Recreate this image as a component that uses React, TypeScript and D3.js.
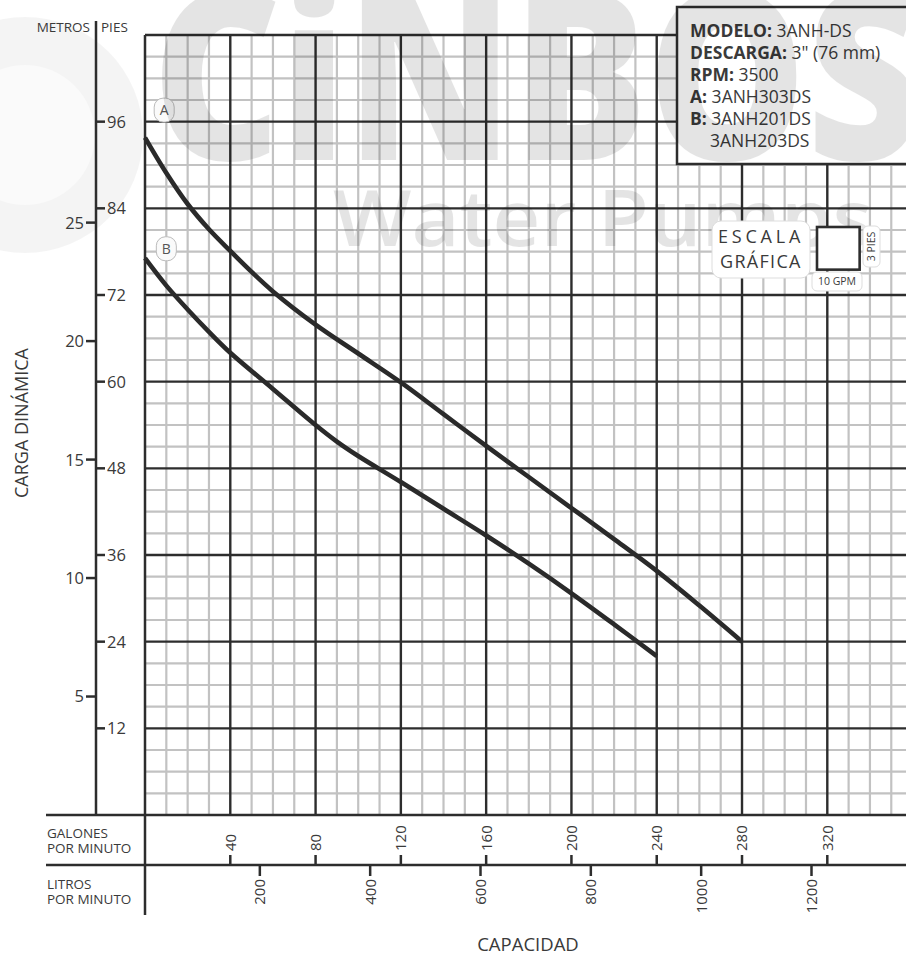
import * as d3 from "d3";

const W = 906;
const H = 956;
const FONT = "'Open Sans', 'Noto Sans', sans-serif";

// curva A (3ANH303DS): galones por minuto -> pies
const gpmA = [0, 10, 20, 30, 40, 50, 60, 80, 100, 120, 140, 160, 180, 200, 220, 240, 260, 280];
const piesA = [93.8, 88.9, 84.6, 81.1, 78.1, 75.2, 72.5, 67.9, 63.9, 59.9, 55.5, 51.1, 46.8, 42.5, 38.2, 33.8, 29, 24];

// curva B (3ANH201DS / 3ANH203DS)
const gpmB = [0, 10, 20, 30, 40, 60, 80, 90, 100, 120, 140, 160, 180, 200, 220, 240];
const piesB = [77.1, 73.3, 70, 66.9, 64, 59, 54, 51.7, 49.7, 46.1, 42.4, 38.7, 34.8, 30.7, 26.4, 22];

const gpmTicks = [40, 80, 120, 160, 200, 240, 280, 320, 360];
const lpmTicks = [200, 400, 600, 800, 1000, 1200];
const piesTicks = [12, 24, 36, 48, 60, 72, 84, 96];
const metrosTicks = [5, 10, 15, 20, 25];
const FT_PER_M = 3.28084;

const legendLines = [
  ["MODELO:", " 3ANH-DS"],
  ["DESCARGA:", " 3\" (76 mm)"],
  ["RPM:", " 3500"],
  ["A:", " 3ANH303DS"],
  ["B:", " 3ANH201DS"],
  ["", "3ANH203DS"],
];

const x = d3.scaleLinear().domain([0, 320]).range([145, 827.3]);
const y = d3.scaleLinear().domain([0, 108]).range([815, 35]);
const xL = d3.scaleLinear().domain([0, 1200]).range([149.5, 811.5]);

const line = d3
  .line<[number, number]>()
  .x((d) => x(d[0]))
  .y((d) => y(d[1]))
  .curve(d3.curveCatmullRom.alpha(0.5));

const pathA = line(gpmA.map((g, i) => [g, piesA[i]] as [number, number]));
const pathB = line(gpmB.map((g, i) => [g, piesB[i]] as [number, number]));

const DARK = "#2d2d2d";
const MINOR = "#c2c2c2";
const TEXT = "#3a3a3a";

export default function App() {
  const minorV = d3.range(0, 370, 10).filter((v) => v % 40 !== 0 && x(v) < W + 2);
  const majorV = d3.range(40, 370, 40).filter((v) => x(v) < W + 2);
  const minorH = d3.range(3, 108, 3).filter((v) => v % 12 !== 0);
  const majorH = d3.range(12, 109, 12);
  const cell = x(10) - x(0);

  return (
    <div style={{ position: "absolute", left: 0, top: 0 }}>
      <svg width={W} height={H} style={{ display: "block", background: "#fff" }} fontFamily={FONT}>
        {/* logo faint at left */}
        <circle cx={25} cy={135} r={118} fill="#000" opacity={0.045} />
        <circle cx={25} cy={135} r={70} fill="#fff" opacity={0.5} />

        {/* grid */}
        <g strokeWidth={2.2} stroke={MINOR}>
          {minorV.map((v) => (
            <line key={"mv" + v} x1={x(v)} x2={x(v)} y1={y(108)} y2={y(0)} />
          ))}
          {minorH.map((v) => (
            <line key={"mh" + v} x1={x(0)} x2={W} y1={y(v)} y2={y(v)} />
          ))}
        </g>
        <g strokeWidth={2.4} stroke={DARK}>
          {majorV.map((v) => (
            <line key={"Mv" + v} x1={x(v)} x2={x(v)} y1={y(108)} y2={y(0)} />
          ))}
          {majorH.map((v) => (
            <line key={"Mh" + v} x1={x(0)} x2={W} y1={y(v)} y2={y(v)} />
          ))}
        </g>

        {/* frame / axes */}
        <g stroke={DARK} strokeWidth={2.5}>
          <line x1={x(0)} x2={x(0)} y1={y(108)} y2={915} />
          <line x1={46} x2={W} y1={y(0)} y2={y(0)} />
          <line x1={46} x2={W} y1={865} y2={865} />
          <line x1={96} x2={96} y1={21} y2={y(0)} />
          {piesTicks.map((t) => (
            <line key={"pt" + t} x1={96} x2={105} y1={y(t)} y2={y(t)} />
          ))}
          {metrosTicks.map((t) => (
            <line key={"mt" + t} x1={86} x2={96} y1={y(t * FT_PER_M)} y2={y(t * FT_PER_M)} />
          ))}
          {gpmTicks.map((t) => (
            <line key={"gt" + t} x1={x(t)} x2={x(t)} y1={855} y2={865} />
          ))}
          {lpmTicks.map((t) => (
            <line key={"lt" + t} x1={xL(t)} x2={xL(t)} y1={865} y2={876} />
          ))}
        </g>

        {/* curves */}
        <path d={pathA ?? ""} fill="none" stroke="#2a2a2a" strokeWidth={4.6} />
        <path d={pathB ?? ""} fill="none" stroke="#2a2a2a" strokeWidth={4.6} />

        {/* curve labels */}
        {[
          { k: "A", g: 9, h: 97.6 },
          { k: "B", g: 10, h: 78.4 },
        ].map((l) => (
          <g key={l.k} transform={`translate(${x(l.g)},${y(l.h)})`}>
            <rect x={-10} y={-12} width={20} height={24} rx={9} fill="#fafafa" stroke="#bbb" strokeWidth={1} />
            <text textAnchor="middle" dy="0.36em" fontSize={14} fill="#555">
              {l.k}
            </text>
          </g>
        ))}

        {/* axis texts */}
        <g fill={TEXT}>
          <text x={90} y={32} fontSize={13.5} textAnchor="end">METROS</text>
          <text x={101} y={32} fontSize={13.5}>PIES</text>
          {piesTicks.map((t) => (
            <text key={"pl" + t} x={107} y={y(t)} dy="0.36em" fontSize={16.5}>
              {t}
            </text>
          ))}
          {metrosTicks.map((t) => (
            <text key={"ml" + t} x={84} y={y(t * FT_PER_M)} dy="0.36em" fontSize={16.5} textAnchor="end">
              {t}
            </text>
          ))}
          <text transform="translate(22,423) rotate(-90)" textAnchor="middle" dy="0.35em" fontSize={18}>
            CARGA DINÁMICA
          </text>
          <text x={47} y={838} fontSize={13.5}>GALONES</text>
          <text x={47} y={853} fontSize={13.5}>POR MINUTO</text>
          <text x={47} y={889} fontSize={13.5}>LITROS</text>
          <text x={47} y={904} fontSize={13.5}>POR MINUTO</text>
          {gpmTicks.map((t) => (
            <text key={"gl" + t} transform={`translate(${x(t)},851) rotate(-90)`} dy="0.36em" fontSize={15}>
              {t}
            </text>
          ))}
          {lpmTicks.map((t) => (
            <text
              key={"ll" + t}
              transform={`translate(${xL(t)},879) rotate(-90)`}
              dy="0.36em"
              fontSize={15}
              textAnchor="end"
            >
              {t}
            </text>
          ))}
          <text x={528} y={951} fontSize={18.5} textAnchor="middle">CAPACIDAD</text>
        </g>

        {/* legend box */}
        <rect x={677} y={7} width={240} height={157} fill="#fff" stroke={DARK} strokeWidth={2.5} />
        <g fontSize={17.5} fill={TEXT}>
          {legendLines.map((l, i) => (
            <text key={"lg" + i} x={l[0] ? 690 : 710} y={37 + i * 21.9}>
              {l[0] && <tspan fontWeight={700}>{l[0]}</tspan>}
              <tspan>{l[1]}</tspan>
            </text>
          ))}
        </g>

        {/* watermark */}
        <g fill="#000" opacity={0.1} pointerEvents="none">
          <text x={152} y={160} fontSize={235} fontWeight={800} textLength={770} lengthAdjust="spacingAndGlyphs">
            CiNBOS
          </text>
          <text x={333} y={246} fontSize={78} fontWeight={600} textLength={540} lengthAdjust="spacingAndGlyphs">
            Water Pumps
          </text>
        </g>

        {/* escala gráfica */}
        <rect x={712} y={221} width={98} height={57} rx={9} fill="#fff" stroke="#ddd" strokeWidth={1} />
        <text x={718} y={243} fontSize={18} letterSpacing={3.8} fill={TEXT}>ESCALA</text>
        <text x={720} y={268} fontSize={18} letterSpacing={1.3} fill={TEXT}>GRÁFICA</text>
        <rect x={817} y={227} width={cell * 2} height={cell * 2} fill="#fff" stroke={DARK} strokeWidth={2.6} />
        <rect x={812} y={272} width={50} height={19} rx={5} fill="#fff" stroke="#ddd" strokeWidth={1} />
        <text x={837} y={285} fontSize={10.5} textAnchor="middle" fill={TEXT}>10 GPM</text>
        <rect x={863} y={226} width={17} height={41} rx={5} fill="#fff" stroke="#ddd" strokeWidth={1} />
        <text transform="translate(871.5,246.5) rotate(-90)" textAnchor="middle" dy="0.36em" fontSize={10.5} fill={TEXT}>
          3 PIES
        </text>
      </svg>
    </div>
  );
}
